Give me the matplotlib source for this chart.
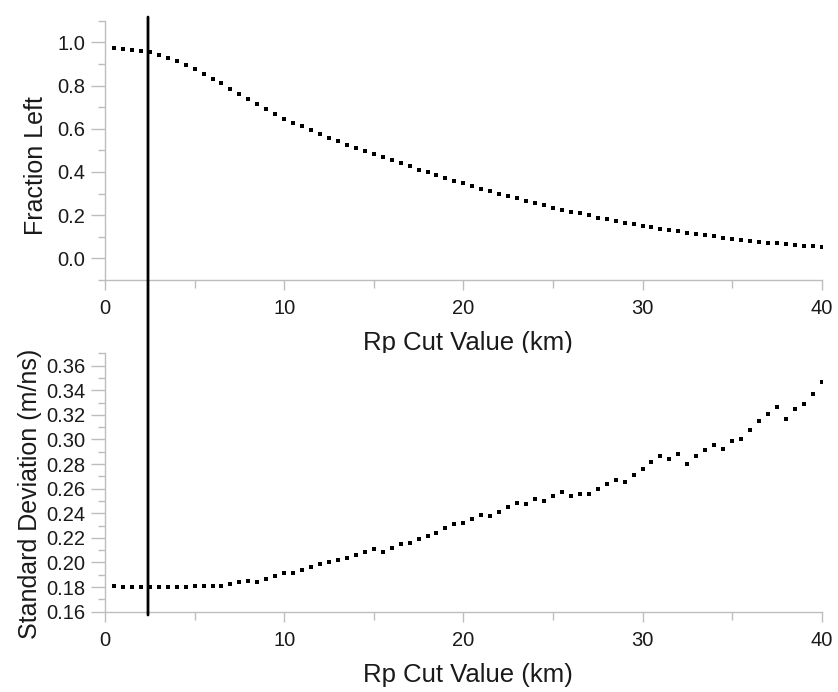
import numpy as np
import matplotlib
matplotlib.use("Agg")
import matplotlib.pyplot as plt
from matplotlib.patches import ConnectionPatch
from matplotlib.ticker import MultipleLocator, FormatStrFormatter

plt.rcParams['font.family'] = ['Liberation Sans', 'DejaVu Sans']

# Rp cut values (km)
rp_cut = [0.5 * (i + 1) for i in range(80)]

fraction_left = [
    0.972, 0.971, 0.966, 0.958, 0.953, 0.943, 0.929, 0.912, 0.896, 0.876,
    0.854, 0.831, 0.810, 0.785, 0.761, 0.737, 0.714, 0.690, 0.669, 0.647,
    0.628, 0.611, 0.593, 0.575, 0.558, 0.541, 0.526, 0.510, 0.496, 0.482,
    0.468, 0.454, 0.440, 0.428, 0.411, 0.400, 0.387, 0.372, 0.359, 0.347,
    0.333, 0.323, 0.310, 0.300, 0.288, 0.278, 0.267, 0.256, 0.245, 0.234,
    0.225, 0.217, 0.208, 0.199, 0.189, 0.181, 0.174, 0.166, 0.160, 0.152,
    0.144, 0.138, 0.132, 0.126, 0.118, 0.112, 0.107, 0.102, 0.096, 0.092,
    0.087, 0.082, 0.078, 0.073, 0.070, 0.065, 0.062, 0.059, 0.056, 0.053,
]

std_dev = [
    0.1809, 0.1804, 0.1804, 0.1801, 0.1799, 0.1801, 0.1799, 0.1799, 0.1801, 0.1812,
    0.1807, 0.1809, 0.1807, 0.1828, 0.1839, 0.1848, 0.1842, 0.1864, 0.1891, 0.1912,
    0.1915, 0.1939, 0.1961, 0.1986, 0.2002, 0.2021, 0.2037, 0.2059, 0.2084, 0.2108,
    0.2089, 0.2119, 0.2149, 0.2162, 0.2192, 0.2219, 0.2243, 0.2279, 0.2312, 0.2322,
    0.2355, 0.2385, 0.2374, 0.2412, 0.2450, 0.2483, 0.2475, 0.2518, 0.2496, 0.2540,
    0.2575, 0.2541, 0.2556, 0.2559, 0.2600, 0.2638, 0.2673, 0.2656, 0.2708, 0.2760,
    0.2819, 0.2868, 0.2838, 0.2879, 0.2797, 0.2866, 0.2917, 0.2955, 0.2925, 0.2985,
    0.3004, 0.3080, 0.3151, 0.3208, 0.3262, 0.3167, 0.3245, 0.3286, 0.3373, 0.3468,
]

cut_line = 2.4

spine_col = '#bdbdbd'
text_col = '#1a1a1a'
W, H = 838, 692
fig = plt.figure(figsize=(W / 100, H / 100), dpi=100)

def px_axes(left, top, right, bottom):
    return fig.add_axes([left / W, 1 - bottom / H, (right - left) / W, (bottom - top) / H])

ax1 = px_axes(105, 20.7, 821.7, 280)
ax2 = px_axes(105, 353.3, 821.7, 611.7)

def style(ax):
    for s in ('top', 'right'):
        ax.spines[s].set_visible(False)
    for s in ('left', 'bottom'):
        ax.spines[s].set_color(spine_col)
        ax.spines[s].set_linewidth(1.0)
    ax.tick_params(axis='both', which='both', colors=spine_col, labelcolor=text_col,
                   labelsize=14.5, width=1.0)
    ax.tick_params(axis='y', which='major', length=10, pad=4)
    ax.tick_params(axis='y', which='minor', length=5)
    ax.tick_params(axis='x', which='major', length=7, pad=7)
    ax.tick_params(axis='x', which='minor', length=6)
    ax.set_xlim(0, 40)
    ax.xaxis.set_major_locator(MultipleLocator(10))
    ax.xaxis.set_minor_locator(MultipleLocator(5))
    ax.set_xlabel('Rp Cut Value (km)', fontsize=18.5, color=text_col, labelpad=9)
    ax.xaxis.label.set_x(0.507)

style(ax1)
style(ax2)

ax1.plot(rp_cut, fraction_left, linestyle='none', marker='s', markersize=3.0,
         markeredgewidth=0, color='black')
ax1.set_ylim(-0.1, 1.1)
ax1.yaxis.set_major_locator(MultipleLocator(0.2))
ax1.yaxis.set_minor_locator(MultipleLocator(0.1))
ax1.yaxis.set_major_formatter(FormatStrFormatter('%.1f'))
ax1.set_ylabel('Fraction Left', fontsize=18, color=text_col, labelpad=7)
ax1.yaxis.label.set_y(0.44)

ax2.plot(rp_cut, std_dev, linestyle='none', marker='s', markersize=3.0,
         markeredgewidth=0, color='black')
ax2.set_ylim(0.16, 0.37)
ax2.yaxis.set_major_locator(MultipleLocator(0.02))
ax2.yaxis.set_minor_locator(MultipleLocator(0.01))
ax2.yaxis.set_major_formatter(FormatStrFormatter('%.2f'))
ax2.set_ylabel('Standard Deviation (m/ns)', fontsize=18, color=text_col, labelpad=3)
ax2.yaxis.label.set_y(0.455)

con = ConnectionPatch(xyA=(cut_line, 1.117), coordsA=ax1.transData,
                      xyB=(cut_line, 0.1573), coordsB=ax2.transData,
                      color='black', linewidth=2.0, zorder=10)
fig.add_artist(con)

fig.savefig('out.png', dpi=100)
